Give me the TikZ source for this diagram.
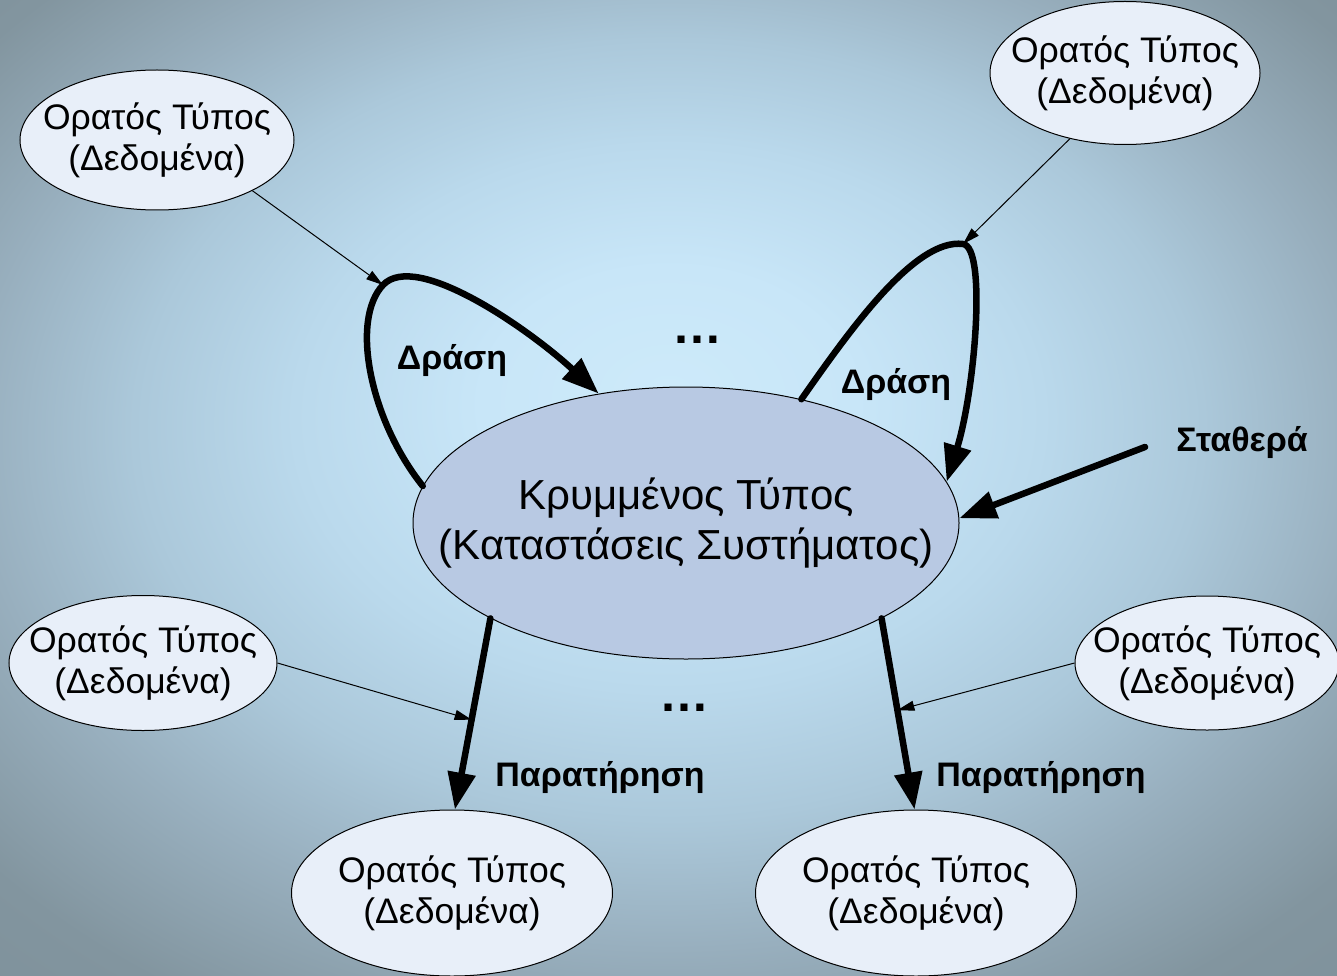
\documentclass[tikz,border=0pt]{standalone}
\usepackage{fontspec}
\setmainfont{Liberation Sans}
\usetikzlibrary{arrows.meta,shapes.geometric,calc}
\definecolor{bg0}{HTML}{CDEAFA}
\definecolor{bg1}{HTML}{C8E6F8}
\definecolor{bg2}{HTML}{BAD9EC}
\definecolor{bg3}{HTML}{ABC8DA}
\definecolor{bg4}{HTML}{98AFBE}
\definecolor{bg5}{HTML}{82959F}
\definecolor{bg6}{HTML}{778891}
\definecolor{smallfill}{HTML}{E8EFF9}
\definecolor{bigfill}{HTML}{B8C9E3}
\pgfdeclareradialshading{bgshade}{\pgfpoint{0bp}{5bp}}{color(0bp)=(bg0); color(7bp)=(bg1); color(14bp)=(bg2); color(20bp)=(bg3); color(26bp)=(bg4); color(33bp)=(bg5); color(50bp)=(bg6)}
\tikzset{
  obs/.style={ellipse, draw=black, line width=1pt, fill=smallfill, inner sep=0pt},
  hid/.style={ellipse, draw=black, line width=1pt, fill=bigfill, inner sep=0pt},
  obstext/.style={align=center, inner sep=0pt, font=\fontsize{35.5}{41}\selectfont},
  hidtext/.style={align=center, inner sep=0pt, font=\fontsize{42}{50}\selectfont},
  lbl/.style={font=\bfseries\fontsize{34}{40}\selectfont, inner sep=0pt},
  dots/.style={font=\bfseries\fontsize{50}{50}\selectfont, inner sep=0pt},
  thick arrow/.style={line width=6.5pt, line cap=round, -{Triangle[length=37pt,width=27pt]}},
  thin arrow/.style={line width=1pt, -{Triangle[length=17pt,width=10pt]}}
}
\begin{document}
\begin{tikzpicture}[x=1pt,y=-1pt]
\useasboundingbox (0,0) rectangle (1337,976);
\shade[shading=bgshade] (0,0) rectangle (1337,976);

\node[hid, minimum width=546pt, minimum height=272pt,
  label={[hidtext]center:{Κρυμμένος Τύπος\\(Καταστάσεις Συστήματος)}}] (C) at (686,523) {};
\node[obs, minimum width=274pt, minimum height=140pt,
  label={[obstext]center:{Ορατός Τύπος\\(Δεδομένα)}}] (TL) at (157,140) {};
\node[obs, minimum width=270pt, minimum height=143pt,
  label={[obstext]center:{Ορατός Τύπος\\(Δεδομένα)}}] (TR) at (1125,73) {};
\node[obs, minimum width=268pt, minimum height=135pt,
  label={[obstext]center:{Ορατός Τύπος\\(Δεδομένα)}}] (ML) at (143,663) {};
\node[obs, minimum width=264pt, minimum height=134pt,
  label={[obstext]center:{Ορατός Τύπος\\(Δεδομένα)}}] (MR) at (1207,663) {};
\node[obs, minimum width=321pt, minimum height=166pt,
  label={[obstext]center:{Ορατός Τύπος\\(Δεδομένα)}}] (BL) at (452,893) {};
\node[obs, minimum width=321pt, minimum height=166pt,
  label={[obstext]center:{Ορατός Τύπος\\(Δεδομένα)}}] (BR) at (916,893) {};

\node[lbl] (d1) at (452,361) {Δράση};
\node[lbl] (d2) at (896,385) {Δράση};
\node[lbl] (st) at (1242,443) {Σταθερά};
\node[lbl] (p1) at (600,778) {Παρατήρηση};
\node[lbl] (p2) at (1041,778) {Παρατήρηση};
\node[dots] (dt) at (697,340) {…};
\node[dots] (db) at (684,708) {…};

\coordinate (a1) at (383,285);
\coordinate (a2) at (963,244);
\coordinate (s0) at (1145,447);

% action loops
\draw[thick arrow] (C.172) .. controls (370,420) and (350,320) .. (a1)
  .. controls (416,250) and (530,330) .. (C.124);
\draw[thick arrow] (C.47) .. controls (850,330) and (915,238) .. (a2)
  .. controls (987,247) and (975,390) .. (C.9);
% constants
\draw[thick arrow] (s0) -- (C.1);
% observations
\draw[thick arrow] (C.206) -- (BL.88);
\draw[thick arrow] (C.334) -- (BR.91);
\coordinate (o1) at ($(C.206)!0.53!(BL.88)$);
\coordinate (o2) at ($(C.334)!0.48!(BR.91)$);
% thin inputs
\draw[thin arrow] (TL.332) -- (a1);
\draw[thin arrow] (TR.230) -- (a2);
\draw[thin arrow] (ML.east) -- (o1);
\draw[thin arrow] (MR.west) -- (o2);
\end{tikzpicture}
\end{document}
